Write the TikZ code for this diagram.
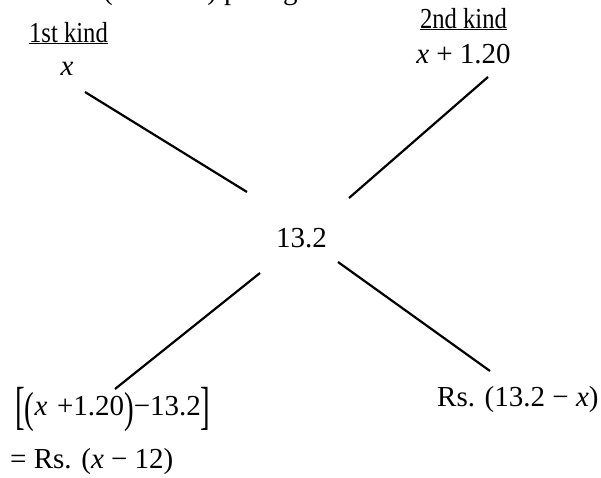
\documentclass[tikz,border=0pt]{standalone}
\usepackage{fontspec}
\setmainfont{Liberation Serif}
\newcommand\tallbr[1]{\raisebox{-0.28em}{\scalebox{1}[1.8]{#1}}}
\newcommand\tallpar[1]{\raisebox{-0.26em}{\scalebox{1}[1.5]{#1}}}
\begin{document}
\begin{tikzpicture}[x=1pt,y=-1pt,
  lbl/.style={inner sep=0pt, font=\fontsize{29}{32}\selectfont},
  conn/.style={line width=2.2pt}]
\useasboundingbox (0,0) rectangle (601,477);
% partially visible line at the top edge
\node[lbl, anchor=base west] (top) at (103,-1) {(\textit{x} + 1.20) per kg};
\node[lbl, anchor=base] (k1) at (68.5,42) {\scalebox{0.85}[1]{\underline{1st kind}}};
\node[lbl, anchor=base] (x1) at (67,75) {\textit{x}};
\node[lbl, anchor=base] (k2) at (463.5,28) {\scalebox{0.85}[1]{\underline{2nd kind}}};
\node[lbl, anchor=base] (x2) at (463.5,63) {\textit{x} + 1.20};
\node[lbl, anchor=base] (m) at (301.5,247) {13.2};
\node[lbl, anchor=base west] (d1) at (15,415) {\tallbr{[}\tallpar{(}\textit{x}\,\,+1.20\tallpar{)}−13.2\tallbr{]}};
\node[lbl, anchor=base west] (d1b) at (10,468) {= Rs. (\textit{x} − 12)};
\node[lbl, anchor=base west] (d2) at (437,406) {Rs. (13.2 − \textit{x})};
% connector ends
\coordinate (a1) at (85,92);   \coordinate (a2) at (247,192);
\coordinate (b1) at (488,77);  \coordinate (b2) at (349,198);
\coordinate (c1) at (260,273); \coordinate (c2) at (115,389);
\coordinate (e1) at (338,262); \coordinate (e2) at (490,371);
\draw[conn] (a1) -- (a2);
\draw[conn] (b1) -- (b2);
\draw[conn] (c1) -- (c2);
\draw[conn] (e1) -- (e2);
\end{tikzpicture}
\end{document}
